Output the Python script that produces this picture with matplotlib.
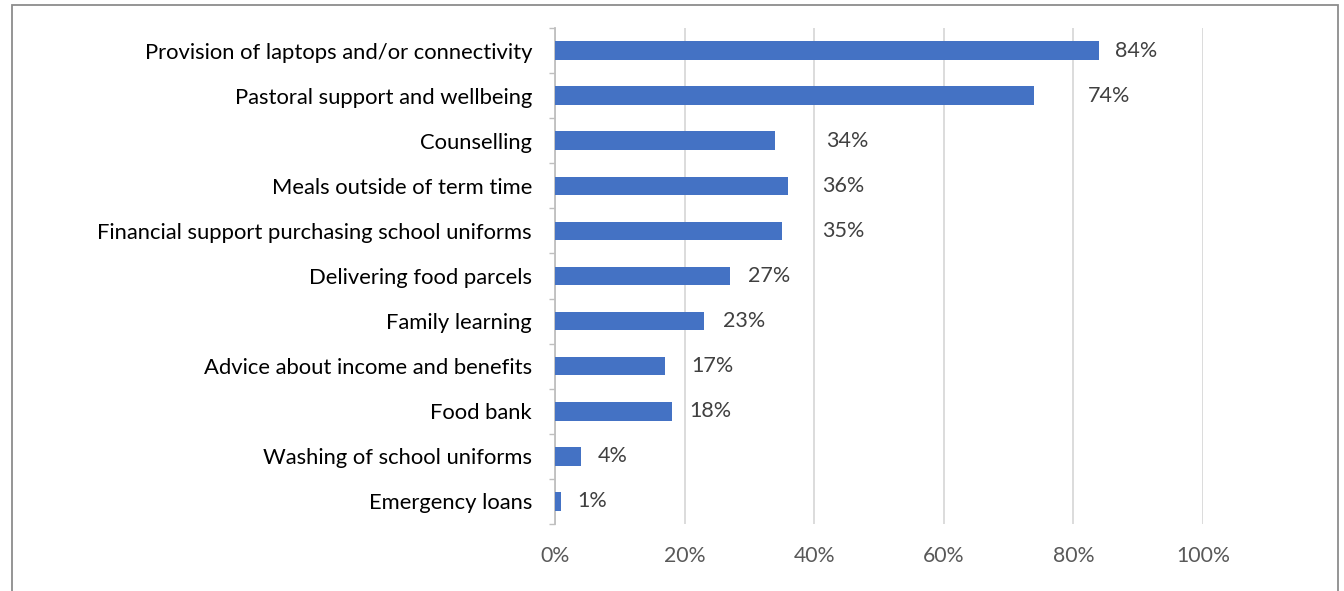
import matplotlib
matplotlib.use("Agg")
import matplotlib.pyplot as plt
from matplotlib.patches import Rectangle

categories = [
    "Provision of laptops and/or connectivity",
    "Pastoral support and wellbeing",
    "Counselling",
    "Meals outside of term time",
    "Financial support purchasing school uniforms",
    "Delivering food parcels",
    "Family learning",
    "Advice about income and benefits",
    "Food bank",
    "Washing of school uniforms",
    "Emergency loans",
]
percent = [84, 74, 34, 36, 35, 27, 23, 17, 18, 4, 1]
# extra shift of each value label to the right of its bar end, in % units
label_nudge = [2.4, 8.2, 7.8, 5.2, 6.2, 2.8, 2.9, 4.1, 2.7, 2.6, 2.4]
x_ticks = [0, 20, 40, 60, 80, 100]

plt.rcParams["font.family"] = ["Lato", "DejaVu Sans"]

fig = plt.figure(figsize=(13.44, 5.91), dpi=100)
ax = fig.add_axes([0.4129, 0.1134, 0.4821, 0.8392])

ypos = list(range(len(categories)))
ax.barh(ypos, percent, height=0.41, color="#4472C4", zorder=3)

for y, v, dx in zip(ypos, percent, label_nudge):
    ax.text(v + dx, y, f"{v}%", va="center", ha="left",
            fontsize=15.5, color="#404040")

ax.set_xlim(0, 100)
ax.set_ylim(len(categories) - 0.5, -0.5)
ax.set_yticks(ypos)
ax.set_yticklabels(categories, fontsize=15.8, color="black")
ax.set_yticks([i - 0.5 for i in range(len(categories) + 1)], minor=True)
ax.tick_params(axis="y", which="major", length=0, pad=16.5)
ax.tick_params(axis="y", which="minor", length=4, color="#BFBFBF", width=1)

ax.set_xticks(x_ticks)
ax.set_xticklabels([f"{t}%" for t in x_ticks], fontsize=15.3, color="#595959")
ax.tick_params(axis="x", length=0, pad=16)
ax.grid(axis="x", color="#D9D9D9", linewidth=1.3, zorder=0)

for side in ["top", "right", "bottom"]:
    ax.spines[side].set_visible(False)
ax.spines["left"].set_color("#BFBFBF")
ax.spines["left"].set_linewidth(1.3)

# outer chart frame
fig.patches.append(Rectangle((0.0089, -0.05), 0.9866, 1.0415,
                             transform=fig.transFigure, fill=False,
                             edgecolor="#8C8C8C", linewidth=1.3))

fig.savefig("out.png", dpi=100)
